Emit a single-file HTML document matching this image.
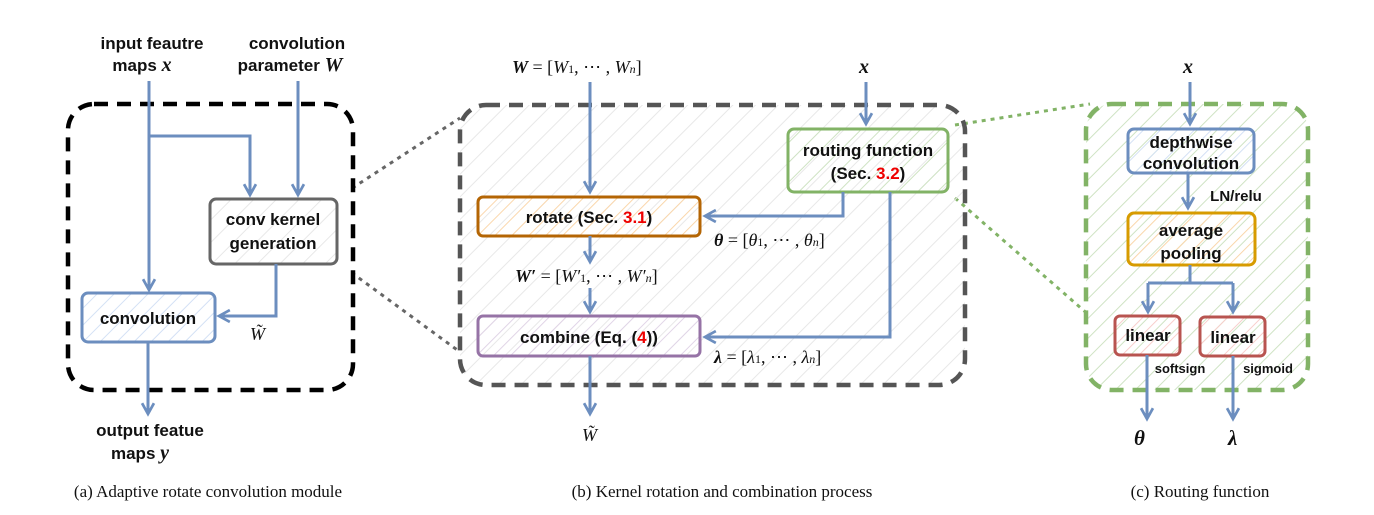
<!DOCTYPE html>
<html><head><meta charset="utf-8"><style>
body{margin:0;background:#fff}
svg{display:block}
.t{font-family:"Liberation Sans",sans-serif;font-weight:bold;font-size:17px;fill:#111;text-anchor:middle}
.m{font-family:"Liberation Serif",serif;font-size:18px;fill:#111}
.cap{font-family:"Liberation Serif",serif;font-size:17px;fill:#111;text-anchor:middle}
.ar{stroke:#6c8ebf;stroke-width:3;fill:none}
.red{fill:#e00}
</style></head><body>
<svg width="1374" height="515" viewBox="0 0 1374 515">
<defs>
<pattern id="hg" width="16" height="16" patternUnits="userSpaceOnUse" patternTransform="rotate(45)"><line x1="0" y1="0" x2="0" y2="16" stroke="#e8e8e8" stroke-width="2"/></pattern>
<pattern id="hgr" width="14" height="14" patternUnits="userSpaceOnUse" patternTransform="rotate(45)"><line x1="0" y1="0" x2="0" y2="14" stroke="#cfe3c4" stroke-width="2"/></pattern>
<pattern id="hb" width="12" height="12" patternUnits="userSpaceOnUse" patternTransform="rotate(45)"><line x1="0" y1="0" x2="0" y2="12" stroke="#d4e1f5" stroke-width="2"/></pattern>
<pattern id="ho" width="12" height="12" patternUnits="userSpaceOnUse" patternTransform="rotate(45)"><line x1="0" y1="0" x2="0" y2="12" stroke="#fad7ac" stroke-width="2"/></pattern>
<pattern id="hp" width="12" height="12" patternUnits="userSpaceOnUse" patternTransform="rotate(45)"><line x1="0" y1="0" x2="0" y2="12" stroke="#e1d5e7" stroke-width="2"/></pattern>
<pattern id="hr" width="12" height="12" patternUnits="userSpaceOnUse" patternTransform="rotate(45)"><line x1="0" y1="0" x2="0" y2="12" stroke="#f8cecc" stroke-width="2"/></pattern>
<marker id="a" viewBox="0 0 12 12" refX="11" refY="6" markerWidth="13" markerHeight="13" orient="auto" markerUnits="userSpaceOnUse" style="overflow:visible"><path d="M1,0.5 L11,6 L1,11.5" fill="none" stroke="#6c8ebf" stroke-width="2.5"/></marker>
</defs>

<line x1="337" y1="198" x2="460" y2="118" stroke="#666" stroke-width="3" stroke-dasharray="4 5"/>
<line x1="337" y1="262" x2="460" y2="352" stroke="#666" stroke-width="3" stroke-dasharray="4 5"/>
<line x1="955" y1="125" x2="1090" y2="104" stroke="#82b366" stroke-width="3" stroke-dasharray="4 5"/>
<line x1="955" y1="198" x2="1090" y2="316" stroke="#82b366" stroke-width="3" stroke-dasharray="4 5"/>

<g>
<rect x="68" y="104" width="285" height="286" rx="26" fill="#fff" stroke="#000" stroke-width="4.5" stroke-dasharray="14 9"/>
<text class="t" x="152" y="49">input feautre</text>
<text class="t" x="142" y="71">maps <tspan font-family="Liberation Serif" font-style="italic" style="font-size:20px">x</tspan></text>
<text class="t" x="297" y="49">convolution</text>
<text class="t" x="290" y="71">parameter <tspan font-family="Liberation Serif" font-style="italic" style="font-size:20px">W</tspan></text>
<path class="ar" d="M149,81 V290" marker-end="url(#a)"/>
<path class="ar" d="M149,136 H250 V195" marker-end="url(#a)"/>
<path class="ar" d="M298,81 V195" marker-end="url(#a)"/>
<rect x="210" y="199" width="127" height="65" rx="6" fill="url(#hg)" stroke="#666" stroke-width="3"/>
<text class="t" x="273" y="225">conv kernel</text>
<text class="t" x="273" y="249">generation</text>
<rect x="82" y="293" width="133" height="49" rx="6" fill="url(#hb)" stroke="#6c8ebf" stroke-width="3"/>
<text class="t" x="148" y="324">convolution</text>
<path class="ar" d="M276,264 V316 H219" marker-end="url(#a)"/>
<text class="m" x="250" y="340" font-style="italic">W̃</text>
<path class="ar" d="M148,342 V414" marker-end="url(#a)"/>
<text class="t" x="150" y="436">output featue</text>
<text class="t" x="140" y="459">maps <tspan font-family="Liberation Serif" font-style="italic" style="font-size:20px">y</tspan></text>
<text class="cap" x="208" y="497">(a) Adaptive rotate convolution module</text>
</g>

<g>
<rect x="460" y="105" width="505" height="280" rx="26" fill="url(#hg)" stroke="#555" stroke-width="4.5" stroke-dasharray="14 9"/>
<text class="m" x="512" y="73"><tspan font-weight="bold" font-style="italic">W</tspan> = [<tspan font-style="italic">W</tspan><tspan font-size="12">1</tspan>, ⋯ , <tspan font-style="italic">W<tspan font-size="12">n</tspan></tspan>]</text>
<text class="m" x="859" y="73" font-weight="bold" font-style="italic" style="font-size:20px">x</text>
<path class="ar" d="M590,82 V192" marker-end="url(#a)"/>
<path class="ar" d="M866,82 V124" marker-end="url(#a)"/>
<rect x="788" y="129" width="160" height="63" rx="6" fill="url(#hgr)" stroke="#82b366" stroke-width="3"/>
<text class="t" x="868" y="156">routing function</text>
<text class="t" x="868" y="179">(Sec. <tspan class="red">3.2</tspan>)</text>
<rect x="478" y="197" width="222" height="39" rx="5" fill="url(#ho)" stroke="#b46504" stroke-width="3"/>
<text class="t" x="589" y="223">rotate (Sec. <tspan class="red">3.1</tspan>)</text>
<path class="ar" d="M843,192 V216 H705" marker-end="url(#a)"/>
<text class="m" x="714" y="246"><tspan font-weight="bold" font-style="italic">θ</tspan> = [<tspan font-style="italic">θ</tspan><tspan font-size="12">1</tspan>, ⋯ , <tspan font-style="italic">θ<tspan font-size="12">n</tspan></tspan>]</text>
<path class="ar" d="M590,236 V262" marker-end="url(#a)"/>
<text class="m" x="515" y="282"><tspan font-weight="bold" font-style="italic">W′</tspan> = [<tspan font-style="italic">W′</tspan><tspan font-size="12">1</tspan>, ⋯ , <tspan font-style="italic">W′<tspan font-size="12">n</tspan></tspan>]</text>
<path class="ar" d="M590,288 V312" marker-end="url(#a)"/>
<rect x="478" y="316" width="222" height="40" rx="5" fill="url(#hp)" stroke="#9673a6" stroke-width="3"/>
<text class="t" x="589" y="343">combine (Eq. (<tspan class="red">4</tspan>))</text>
<path class="ar" d="M890,192 V337 H705" marker-end="url(#a)"/>
<text class="m" x="714" y="363"><tspan font-weight="bold" font-style="italic">λ</tspan> = [<tspan font-style="italic">λ</tspan><tspan font-size="12">1</tspan>, ⋯ , <tspan font-style="italic">λ<tspan font-size="12">n</tspan></tspan>]</text>
<path class="ar" d="M590,356 V414" marker-end="url(#a)"/>
<text class="m" x="582" y="441" font-style="italic">W̃</text>
<text class="cap" x="722" y="497">(b) Kernel rotation and combination process</text>
</g>

<g>
<rect x="1086" y="104" width="222" height="286" rx="26" fill="url(#hgr)" stroke="#82b366" stroke-width="4.5" stroke-dasharray="14 9"/>
<text class="m" x="1183" y="73" font-weight="bold" font-style="italic" style="font-size:20px">x</text>
<path class="ar" d="M1190,82 V124" marker-end="url(#a)"/>
<rect x="1128" y="129" width="126" height="44" rx="6" fill="url(#hb)" stroke="#6c8ebf" stroke-width="3"/>
<text class="t" x="1191" y="148">depthwise</text>
<text class="t" x="1191" y="169">convolution</text>
<path class="ar" d="M1188,173 V208" marker-end="url(#a)"/>
<text class="t" x="1236" y="201" style="font-size:15px">LN/relu</text>
<rect x="1128" y="213" width="127" height="52" rx="6" fill="url(#ho)" stroke="#d79b00" stroke-width="3"/>
<text class="t" x="1191" y="236">average</text>
<text class="t" x="1191" y="259">pooling</text>
<path class="ar" d="M1190,265 V283 M1148,283 H1233"/>
<path class="ar" d="M1148,283 V312" marker-end="url(#a)"/>
<path class="ar" d="M1233,283 V312" marker-end="url(#a)"/>
<rect x="1115" y="316" width="65" height="39" rx="5" fill="url(#hr)" stroke="#b85450" stroke-width="3"/>
<text class="t" x="1148" y="341">linear</text>
<rect x="1200" y="317" width="65" height="39" rx="5" fill="url(#hr)" stroke="#b85450" stroke-width="3"/>
<text class="t" x="1233" y="343">linear</text>
<path class="ar" d="M1147,355 V419" marker-end="url(#a)"/>
<path class="ar" d="M1233,356 V419" marker-end="url(#a)"/>
<text class="t" x="1180" y="373" style="font-size:13px">softsign</text>
<text class="t" x="1268" y="373" style="font-size:13px">sigmoid</text>
<text class="m" x="1134" y="445" font-weight="bold" font-style="italic" style="font-size:21px">θ</text>
<text class="m" x="1228" y="445" font-weight="bold" font-style="italic" style="font-size:21px">λ</text>
<text class="cap" x="1200" y="497">(c) Routing function</text>
</g>
</svg>
</body></html>
